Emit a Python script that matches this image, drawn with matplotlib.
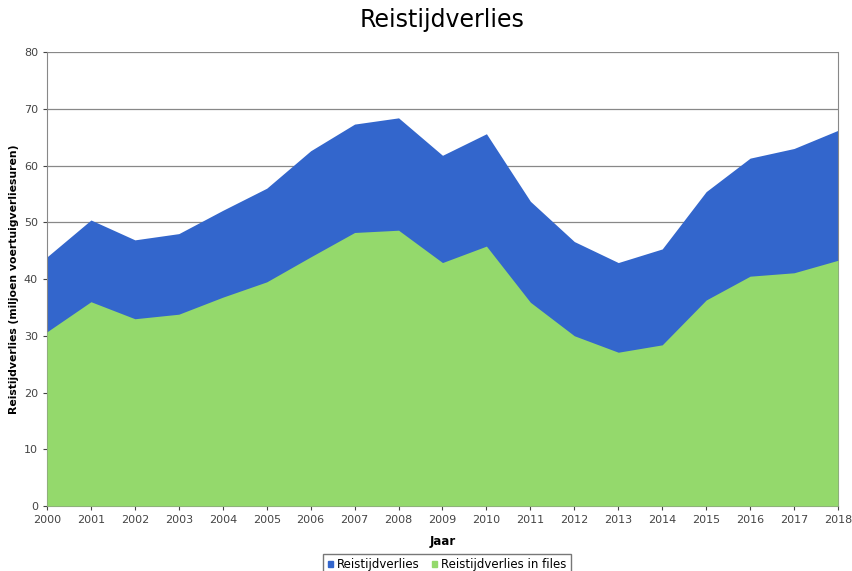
import matplotlib
matplotlib.use('Agg')
import matplotlib.pyplot as plt
from matplotlib.patches import Patch

jaren = list(range(2000, 2019))
reistijdverlies = [43.9, 50.4, 46.9, 48.0, 52.1, 56.0, 62.6, 67.3, 68.4, 61.8,
                   65.6, 53.7, 46.6, 42.9, 45.3, 55.4, 61.3, 63.0, 66.2]
in_files = [30.7, 36.0, 33.0, 33.8, 36.8, 39.5, 43.9, 48.2, 48.6, 42.9,
            45.8, 35.9, 30.0, 27.1, 28.4, 36.3, 40.5, 41.1, 43.3]

blauw = '#3366cc'
groen = '#94d96c'

fig = plt.figure(figsize=(8.53, 5.71), dpi=100)
ax = fig.add_axes([0.0551, 0.1138, 0.9273, 0.7951])

ax.fill_between(jaren, reistijdverlies, 0, color=blauw, lw=0, zorder=2)
ax.fill_between(jaren, in_files, 0, color=groen, lw=0, zorder=3)

ax.set_xlim(2000, 2018)
ax.set_ylim(0, 80)
ax.set_xticks(jaren)
ax.set_yticks(range(0, 81, 10))
ax.grid(axis='y', color='#888888', lw=0.9, zorder=1)
ax.tick_params(labelsize=8, colors='#444444', length=3)
for s in ax.spines.values():
    s.set_color('#888888')
ax.spines['top'].set_visible(False)

ax.set_title('Reistijdverlies', fontsize=17, pad=18)
ax.set_xlabel('Jaar', fontsize=8.5, fontweight='bold', labelpad=7)
ax.set_ylabel('Reistijdverlies (miljoen voertuigverliesuren)', fontsize=7.8,
              fontweight='bold')
ax.yaxis.set_label_coords(-0.036, 0.5)

handles = [Patch(color=blauw, label='Reistijdverlies'),
           Patch(color=groen, label='Reistijdverlies in files')]
leg = fig.legend(handles=handles, loc='lower center', bbox_to_anchor=(0.524, -0.018),
                 ncol=2, fontsize=8.5, frameon=True, fancybox=False,
                 handlelength=0.5, handleheight=0.5, handletextpad=0.3,
                 columnspacing=1.0, borderpad=0.35)
leg.get_frame().set_edgecolor('#555555')

fig.savefig('out.png', dpi=100)
